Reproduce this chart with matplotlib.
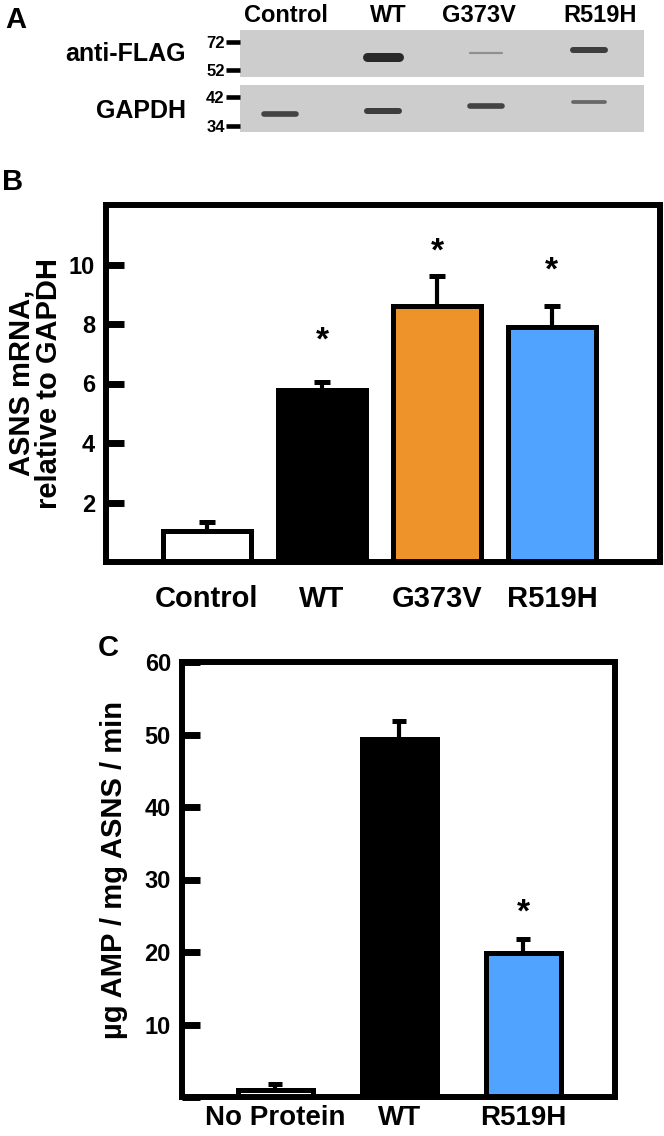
import numpy as np
import matplotlib.pyplot as plt

plt.rcParams['font.family'] = ['Liberation Sans', 'DejaVu Sans']
plt.rcParams['font.weight'] = 'bold'

# panel A: western blot lanes (apparent size in kDa, relative band signal)
lanes = ['Control', 'WT', 'G373V', 'R519H']
flag_kda = [np.nan, 61.3, 64.1, 66.3]
flag_signal = [0.0, 1.0, 0.1, 0.6]
gapdh_kda = [37.3, 38.1, 39.5, 40.6]
gapdh_signal = [0.55, 0.6, 0.55, 0.3]
flag_marks = [52, 72]
gapdh_marks = [34, 42]

# panel B: ASNS mRNA relative to GAPDH
mrna_groups = ['Control', 'WT', 'G373V', 'R519H']
mrna_mean = [1.05, 5.78, 8.62, 7.9]
mrna_sem = [0.3, 0.28, 1.0, 0.72]
mrna_star = [None, 7.8, 10.8, 10.15]

# panel C: ASNS activity
act_groups = ['No Protein', 'WT', 'R519H']
act_mean = [1.0, 49.4, 19.8]
act_sem = [0.8, 2.5, 2.0]
act_star = [None, None, 26.9]

W, H = 664, 1136
fig = plt.figure(figsize=(W / 100, H / 100), dpi=100)


def px_axes(left, top, right, bottom):
    return fig.add_axes([left / W, 1 - bottom / H, (right - left) / W, (bottom - top) / H])


def px_text(x, y, s, **kw):
    fig.text(x / W, 1 - y / H, s, **kw)


# ---- A ----
def draw_blot(ax, kda, signal, marks, ylim):
    ax.set_facecolor('#cdcdcd')
    for sp in ax.spines.values():
        sp.set_visible(False)
    ax.set_xlim(-0.388, 3.534)
    ax.set_ylim(*ylim)
    ax.set_xticks([])
    ax.set_yticks(marks, [str(m) for m in marks])
    ax.tick_params(axis='y', direction='out', length=10, width=3.3, pad=1, labelsize=12)
    for i, (k, s) in enumerate(zip(kda, signal)):
        if not s > 0:
            continue
        g = 0.16 + 0.5 * (1 - s) ** 2
        ax.plot([i - 0.155, i + 0.155], [k, k], lw=(1.5 + 7.5 * s) * 0.72,
                color=str(g), solid_capstyle='round')


ax_f = px_axes(240, 30, 644, 77)
draw_blot(ax_f, flag_kda, flag_signal, flag_marks, (47, 80.6))
ax_g = px_axes(240, 85, 644, 132)
draw_blot(ax_g, gapdh_kda, gapdh_signal, gapdh_marks, (32.3, 45.3))

for i, name in enumerate(lanes):
    px_text([286, 388, 479, 600][i], 22, name, ha='center', va='baseline', fontsize=17)
px_text(186, 61, 'anti-FLAG', ha='right', va='baseline', fontsize=18)
px_text(186, 118, 'GAPDH', ha='right', va='baseline', fontsize=18)
px_text(16, 20, 'A', ha='center', va='center', fontsize=21)


def style_axes(ax):
    for sp in ax.spines.values():
        sp.set_linewidth(4.3)
        sp.set_color('k')


def stars(ax, x, ys):
    for xi, y in zip(x, ys):
        if y is None:
            continue
        ax.annotate('*', (xi, y), xytext=(0, -14), textcoords='offset points',
                    ha='center', va='baseline', fontsize=24)


# ---- B ----
ax_b = px_axes(106, 205, 660, 562)
style_axes(ax_b)
xb = np.arange(len(mrna_groups))
ax_b.bar(xb, mrna_mean, width=0.77, color=['white', 'black', '#EE922A', '#50A4FF'],
         edgecolor='k', linewidth=3.6, zorder=2)
ax_b.errorbar(xb, mrna_mean, yerr=[np.zeros(len(xb)), mrna_sem], fmt='none', ecolor='k',
              elinewidth=3, capsize=5.5, capthick=3.6, zorder=3)
stars(ax_b, xb, mrna_star)
ax_b.set_xlim(-0.878, 3.94)
ax_b.set_ylim(0, 12)
ax_b.set_yticks([2, 4, 6, 8, 10])
ax_b.tick_params(axis='y', direction='in', length=13, width=5, pad=8, labelsize=17)
ax_b.set_xticks(xb, mrna_groups)
ax_b.tick_params(axis='x', length=0, pad=16.5, labelsize=21)
px_text(35, 383, 'ASNS mRNA,\nrelative to GAPDH', rotation=90, ha='center', va='center',
        fontsize=21, multialignment='center', linespacing=1.0)
px_text(13, 182, 'B', ha='center', va='center', fontsize=21)

# ---- C ----
ax_c = px_axes(182, 662, 615, 1097)
style_axes(ax_c)
xc = np.arange(len(act_groups))
ax_c.bar(xc, act_mean, width=0.605, color=['white', 'black', '#50A4FF'],
         edgecolor='k', linewidth=3.6, zorder=2)
ax_c.errorbar(xc, act_mean, yerr=[np.zeros(len(xc)), act_sem], fmt='none', ecolor='k',
              elinewidth=3, capsize=5, capthick=3.6, zorder=3)
stars(ax_c, xc, act_star)
ax_c.set_xlim(-0.75, 2.74)
ax_c.set_ylim(0, 60)
ax_c.set_yticks(range(0, 61, 10), [''] + [str(v) for v in range(10, 61, 10)])
ax_c.tick_params(axis='y', direction='in', length=13, width=5, pad=8, labelsize=17)
ax_c.set_xticks(xc, act_groups)
ax_c.tick_params(axis='x', length=0, pad=6, labelsize=20)
px_text(114, 870, 'µg AMP / mg ASNS / min', rotation=90, ha='center', va='center', fontsize=21)
px_text(108, 648, 'C', ha='center', va='center', fontsize=21)

fig.savefig('out.png', dpi=100)
